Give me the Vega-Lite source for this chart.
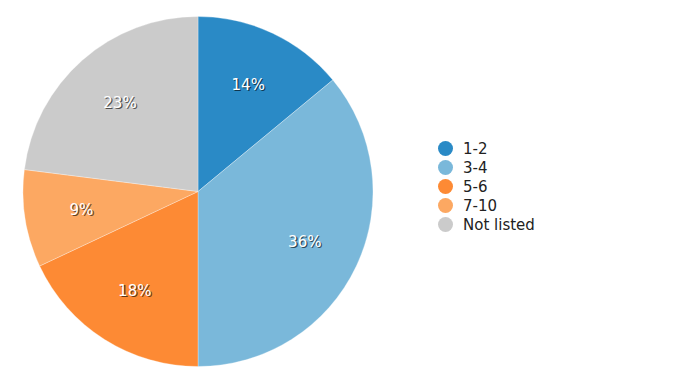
{
  "$schema": "https://vega.github.io/schema/vega-lite/v6.json",
  "width": 396,
  "height": 383,
  "padding": {"left": 0, "top": 0, "right": 5, "bottom": 0},
  "background": "white",
  "config": {"view": {"stroke": null}, "font": "DejaVu Sans"},
  "data": {
    "values": [
      {"group": "1-2", "share": 0.14, "ord": 1},
      {"group": "3-4", "share": 0.36, "ord": 2},
      {"group": "5-6", "share": 0.18, "ord": 3},
      {"group": "7-10", "share": 0.09, "ord": 4},
      {"group": "Not listed", "share": 0.23, "ord": 5}
    ]
  },
  "encoding": {
    "theta": {"field": "share", "type": "quantitative", "stack": true},
    "order": {"field": "ord", "type": "quantitative"}
  },
  "layer": [
    {
      "mark": {"type": "arc", "outerRadius": 175, "stroke": "white", "strokeWidth": 0.5, "strokeOpacity": 0.6},
      "encoding": {
        "color": {
          "field": "group",
          "type": "nominal",
          "scale": {
            "domain": ["1-2", "3-4", "5-6", "7-10", "Not listed"],
            "range": ["#2a8ac6", "#7ab8da", "#fd8a34", "#fca862", "#cbcbcb"]
          },
          "legend": {
            "title": null,
            "orient": "none",
            "legendX": 438,
            "legendY": 141,
            "symbolType": "circle",
            "symbolSize": 225,
            "symbolStrokeWidth": 0,
            "labelFontSize": 15,
            "labelFont": "DejaVu Sans",
            "labelColor": "#222222",
            "labelOffset": 10,
            "rowPadding": 3
          }
        }
      }
    },
    {
      "mark": {"type": "text", "radius": 118, "font": "DejaVu Sans", "fontSize": 15, "fill": "#000000", "opacity": 0.6, "dx": 1.3, "dy": 1.3, "baseline": "middle", "align": "center"},
      "encoding": {"text": {"field": "share", "type": "quantitative", "format": ".0%"}, "detail": {"field": "group"}}
    },
    {
      "mark": {"type": "text", "radius": 118, "font": "DejaVu Sans", "fontSize": 15, "fill": "#ffffff", "baseline": "middle", "align": "center"},
      "encoding": {"text": {"field": "share", "type": "quantitative", "format": ".0%"}, "detail": {"field": "group"}}
    }
  ]
}
